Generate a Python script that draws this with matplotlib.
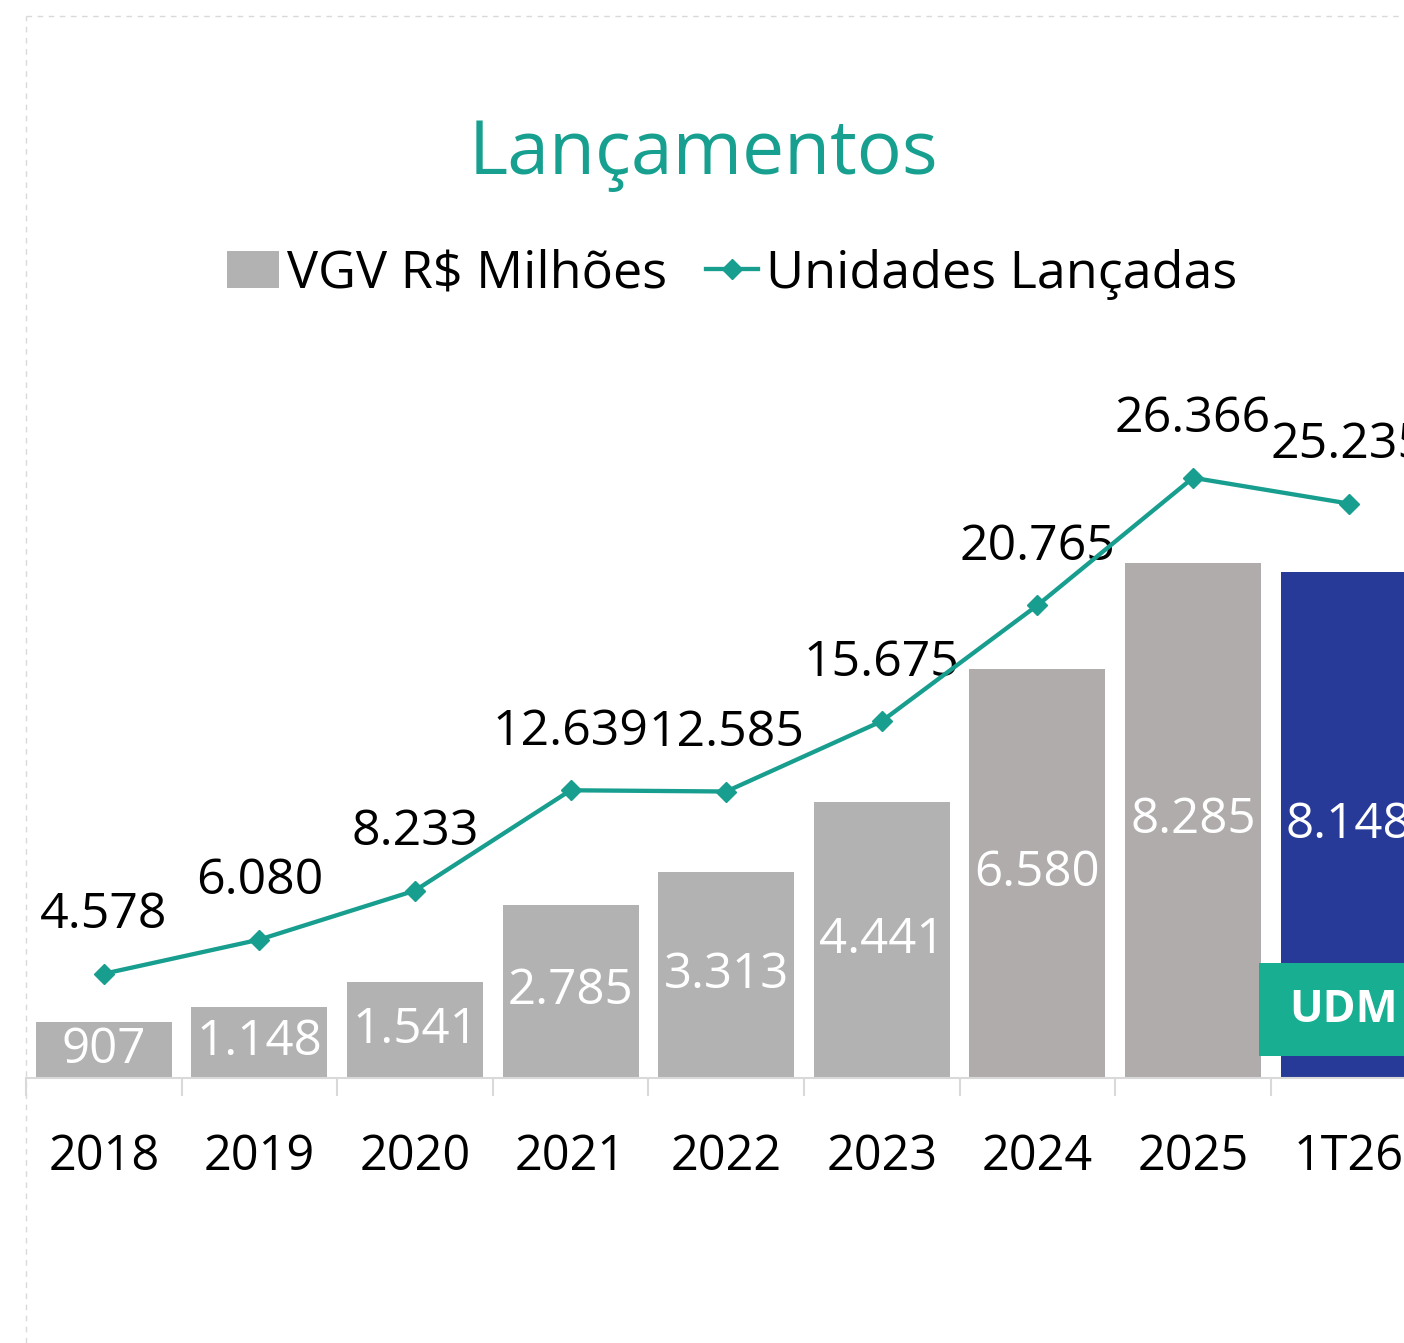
import matplotlib
matplotlib.use("Agg")
import matplotlib.pyplot as plt
from matplotlib.patches import Rectangle
from matplotlib.lines import Line2D

categories = ["2018", "2019", "2020", "2021", "2022", "2023", "2024", "2025", "1T26"]
vgv = [907, 1148, 1541, 2785, 3313, 4441, 6580, 8285, 8148]
unidades = [4578, 6080, 8233, 12639, 12585, 15675, 20765, 26366, 25235]

def br(v):
    return f"{v:,}".replace(",", ".")

FONT = ["Open Sans", "DejaVu Sans"]
plt.rcParams['font.family'] = FONT

W, H = 1404, 1343
fig = plt.figure(figsize=(W / 100, H / 100), dpi=100)

ax_left, ax_right = 26, 26 + 9 * 155.6
ax_bottom, ax_top = 1078, 340
ax = fig.add_axes([ax_left / W, 1 - ax_bottom / H, (ax_right - ax_left) / W, (ax_bottom - ax_top) / H])
ax2 = ax.twinx()

n = len(categories)
x = list(range(n))
bar_colors = ["#b2b2b2"] * 6 + ["#afacab", "#afacab", "#283a97"]
bars = ax.bar(x, vgv, width=0.875, color=bar_colors, zorder=2)

ax.set_xlim(-0.5, n - 0.5)
ax.set_ylim(0, 738 / 0.06216)
ax2.set_ylim(0, 738 / 0.022765)

for xi, v in zip(x, vgv):
    ax.text(xi, v / 2, br(v), ha="center", va="center", color="white",
            fontsize=35.5, zorder=3)

ax2.plot(x, unidades, color="#179e8f", lw=3.1, marker="D", markersize=10,
         zorder=4)
for xi, v in zip(x, unidades):
    ax2.annotate(br(v), (xi, v), xytext=(0, 42), textcoords="offset points",
                 ha="center", va="center", fontsize=36, color="black")

# UDM badge
ax.add_patch(Rectangle((7.424, 354), 1.16, 1496, facecolor="#17ae91",
                       edgecolor="none", zorder=5, clip_on=False))
ax.text(7.97, 1080, "UDM", ha="center", va="center", color="white",
        fontsize=32, fontweight="bold", zorder=6)

for a in (ax, ax2):
    for s in a.spines.values():
        s.set_visible(False)
    a.set_yticks([])
ax.spines["bottom"].set_visible(True)
ax.spines["bottom"].set_color("#d9d9d9")
ax.spines["bottom"].set_linewidth(1.5)

ax.set_xticks(x)
ax.set_xticklabels(categories, fontsize=35)
ax.tick_params(axis="x", which="major", length=0, pad=39)
ax.set_xticks([i - 0.5 for i in range(n + 1)], minor=True)
ax.tick_params(axis="x", which="minor", length=13, width=1.5, color="#d9d9d9")

# dashed frame
fig.add_artist(Line2D([26 / W, 26 / W], [0, 1 - 16 / H], color="#d9d9d9",
                      lw=1, ls=(0, (4, 4))))
fig.add_artist(Line2D([26 / W, 1], [1 - 16 / H, 1 - 16 / H], color="#d9d9d9",
                      lw=1, ls=(0, (4, 4))))

fig.text(703 / W, 1 - 155 / H, "Lançamentos", ha="center", va="center",
         fontsize=54, color="#17a08f")

handles = [Rectangle((0, 0), 1, 1, facecolor="#b2b2b2", edgecolor="none"),
           Line2D([], [], color="#179e8f", lw=3.1, marker="D", markersize=10)]
fig.legend(handles, ["VGV R$ Milhões", "Unidades Lançadas"], loc="center",
           bbox_to_anchor=(732 / W, 1 - 274 / H), ncol=2, frameon=False,
           fontsize=37.5, handlelength=1.0, handleheight=0.72, handletextpad=0.15,
           columnspacing=0.75, borderaxespad=0)

fig.savefig("out.png", dpi=100)
